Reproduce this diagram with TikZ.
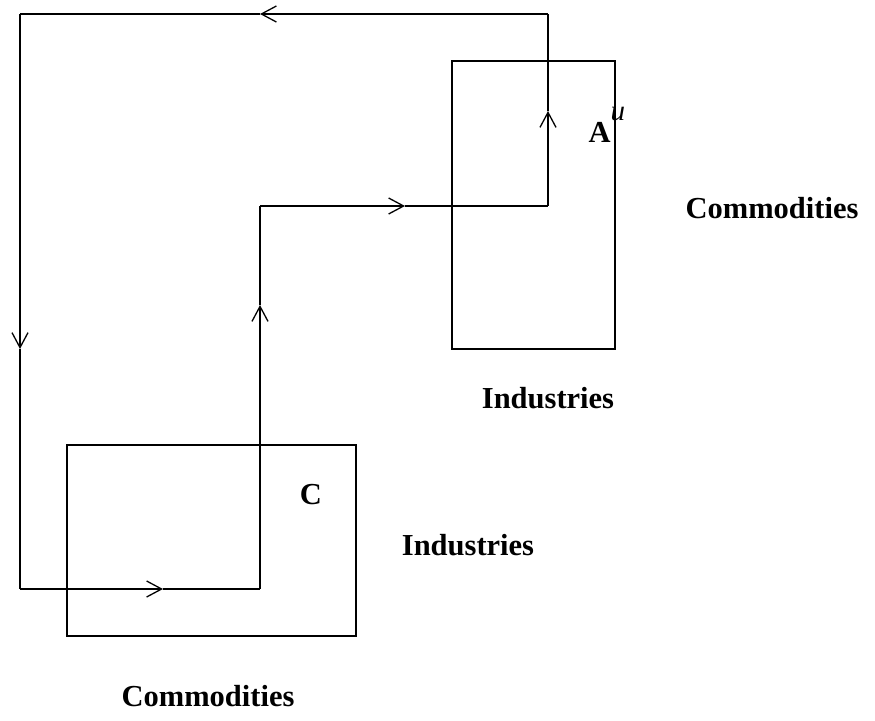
\documentclass[tikz,border=0pt]{standalone}
\usepackage{fontspec}
\setmainfont{Liberation Serif}
\usetikzlibrary{arrows.meta}
\tikzset{
  flow/.style={line width=1.4pt,-{Straight Barb[length=15pt,width=16pt,line width=1.3pt]}},
  line/.style={line width=1.4pt},
  block/.style={draw,line width=2.3pt},
  lbl/.style={font=\fontsize{30.5}{36}\selectfont\bfseries}
}
\begin{document}
\begin{tikzpicture}[x=1pt,y=-1pt]
\useasboundingbox (0,0) rectangle (875,720);

\draw[block] (452,61) rectangle (615,349);
\draw[block] (67,445) rectangle (356,636);

\node[lbl,anchor=base west] (Au) at (585,142) {A\raisebox{22pt}{\fontsize{29}{32}\selectfont\mdseries\itshape u}};
\node[lbl] (C) at (311,495) {C};
\node[lbl] (com1) at (772,208) {Commodities};
\node[lbl] (ind1) at (548,398) {Industries};
\node[lbl] (ind2) at (468,545) {Industries};
\node[lbl] (com2) at (208,696) {Commodities};

\coordinate (p0) at (20,589);
\coordinate (p1) at (260,589);
\coordinate (p2) at (260,206);
\coordinate (p3) at (548,206);
\coordinate (p4) at (548,14);
\coordinate (p5) at (20,14);

\draw[flow] (p0) -- (163,589);
\draw[line] (163,589) -- (p1);
\draw[flow] (p1) -- (260,305);
\draw[line] (260,305) -- (p2);
\draw[flow] (p2) -- (405,206);
\draw[line] (405,206) -- (p3);
\draw[flow] (p3) -- (548,111);
\draw[line] (548,111) -- (p4);
\draw[flow] (p4) -- (260,14);
\draw[line] (260,14) -- (p5);
\draw[flow] (p5) -- (20,349);
\draw[line] (20,349) -- (p0);

\end{tikzpicture}
\end{document}
